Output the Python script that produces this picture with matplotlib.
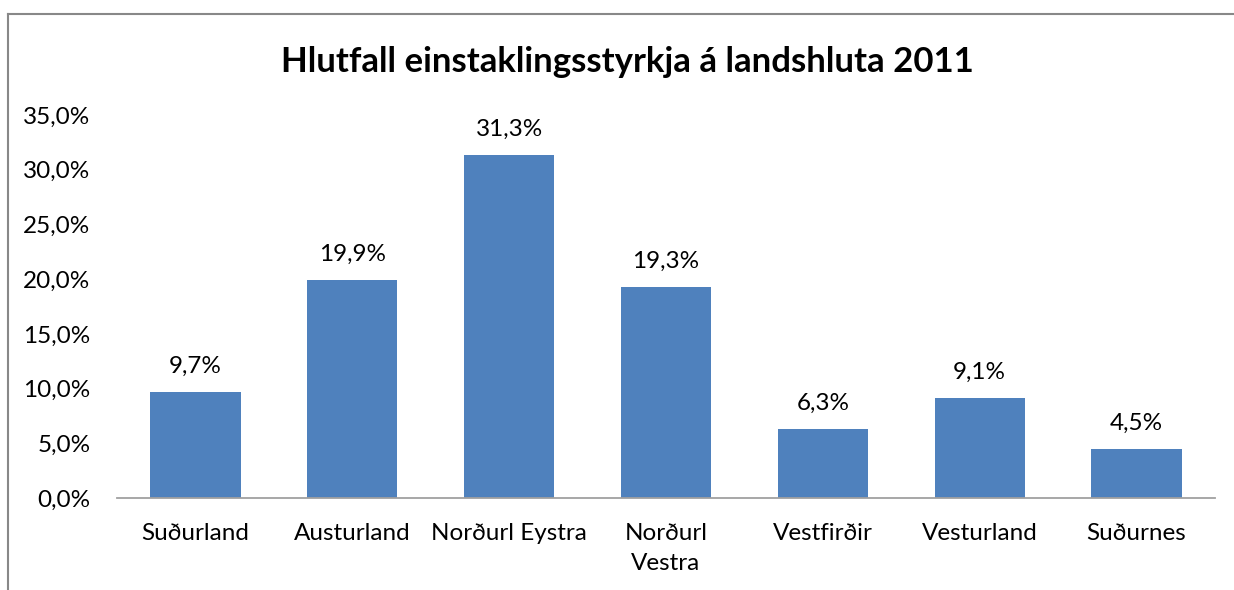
import matplotlib.pyplot as plt
from matplotlib.lines import Line2D

flokkar = ["Suðurland", "Austurland", "Norðurl Eystra", "Norðurl\nVestra",
           "Vestfirðir", "Vesturland", "Suðurnes"]
hlutfall = [9.7, 19.9, 31.3, 19.3, 6.3, 9.1, 4.5]
merki = ["9,7%", "19,9%", "31,3%", "19,3%", "6,3%", "9,1%", "4,5%"]
y_ticks = [0, 5, 10, 15, 20, 25, 30, 35]

plt.rcParams['font.family'] = ['Lato', 'DejaVu Sans']

fig = plt.figure(figsize=(12.34, 5.9), dpi=100)
ax = fig.add_axes([117 / 1234, 92 / 590, 1098 / 1234, 383 / 590])

x = range(len(flokkar))
ax.bar(x, hlutfall, width=0.575, color='#4F81BD')
for i, v in enumerate(hlutfall):
    ax.annotate(merki[i], (i, v), xytext=(0, 11), textcoords='offset points',
                ha='center', va='bottom', fontsize=17.5)

ax.set_xlim(-0.5, len(flokkar) - 0.5)
ax.set_ylim(0, 35)
ax.set_yticks(y_ticks)
ax.set_yticklabels([f"{t:.1f}%".replace(".", ",") for t in y_ticks], fontsize=17.5)
ax.set_xticks(list(x))
ax.set_xticklabels(flokkar, fontsize=17.5, linespacing=1.55, va='top')
ax.tick_params(axis='both', length=0)
ax.tick_params(axis='x', pad=18)
ax.tick_params(axis='y', pad=19)
for s in ['top', 'right', 'left']:
    ax.spines[s].set_visible(False)
ax.spines['bottom'].set_color('#A0A0A0')
ax.spines['bottom'].set_linewidth(1.3)

fig.text(627 / 1234, 1 - 62 / 590, "Hlutfall einstaklingsstyrkja á landshluta 2011",
         ha='center', va='center', fontsize=25, fontweight='bold')

# rammi
fig.add_artist(Line2D([8 / 1234, 8 / 1234], [0, 1 - 14 / 590], transform=fig.transFigure,
                      color='#888888', linewidth=1.5))
fig.add_artist(Line2D([8 / 1234, 1], [1 - 14 / 590, 1 - 14 / 590], transform=fig.transFigure,
                      color='#888888', linewidth=1.5))

plt.savefig("out.png", dpi=100)
